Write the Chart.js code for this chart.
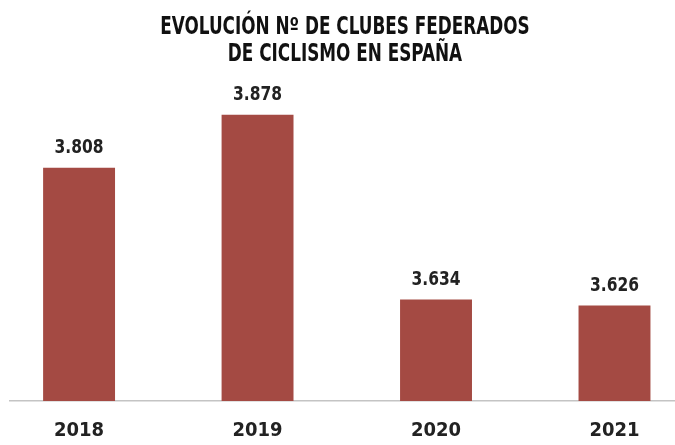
<!DOCTYPE html>
<html lang="es">
<head>
  <meta charset="UTF-8" />
  <title>Clubes federados de ciclismo</title>
  <script src="https://cdn.jsdelivr.net/npm/chart.js"></script>
  <style>
    body {
      margin: 0;
      background: #ffffff;
    }

    .grafica {
      width: 675px;
      height: 445px;
      position: relative;
    }
  </style>
</head>
<body>
  <div class="grafica">
    <canvas id="miCanvas"></canvas>
  </div>

  <script>
    const years = ["2018", "2019", "2020", "2021"];
    const clubs = [3808, 3878, 3634, 3626];
    const titleLines = ["EVOLUCIÓN Nº DE CLUBES FEDERADOS", "DE CICLISMO EN ESPAÑA"];

    const fontFamily = "'DejaVu Sans Condensed', 'Liberation Sans Narrow', sans-serif";

    // numero con punto de miles, como en el original
    const fmt = (v) => String(v).replace(/\B(?=(\d{3})+(?!\d))/g, ".");

    // texto estrechado a mano (la fuente del original es muy condensada)
    const narrowText = (ctx, text, x, y, sx) => {
      ctx.save();
      ctx.translate(x, y);
      ctx.scale(sx, 1);
      ctx.fillText(text, 0, 0);
      ctx.restore();
    };

    const titleAndLabels = {
      id: "titleAndLabels",
      afterDatasetsDraw(chart) {
        const ctx = chart.ctx;
        ctx.save();
        ctx.textAlign = "center";
        ctx.textBaseline = "middle";

        ctx.font = `bold 24px ${fontFamily}`;
        ctx.fillStyle = "#111111";
        titleLines.forEach((line, i) => narrowText(ctx, line, 345, 28 + i * 27, 0.78));

        ctx.font = `bold 20px ${fontFamily}`;
        ctx.fillStyle = "#222222";
        chart.getDatasetMeta(0).data.forEach((bar, i) => {
          narrowText(ctx, fmt(clubs[i]), bar.x, bar.y - 20, 0.86);
        });
        ctx.restore();
      }
    };

    const miCanvas = document.getElementById("miCanvas").getContext("2d");

    new Chart(miCanvas, {
      type: "bar",
      data: {
        datasets: [{
          label: "Clubes",
          data: years.map((y, i) => ({ x: i, y: clubs[i] })),
          backgroundColor: "#a44a43",
          borderWidth: 0,
          barPercentage: 0.403,
          categoryPercentage: 1
        }]
      },
      options: {
        responsive: true,
        maintainAspectRatio: false,
        animation: false,
        layout: {
          padding: { left: 10, right: 0, top: 98, bottom: 0 }
        },
        plugins: {
          legend: { display: false },
          tooltip: { enabled: false },
          title: { display: false }
        },
        scales: {
          x: {
            type: "linear",
            offset: false,
            min: -0.387,
            max: 3.339,
            grid: { display: false },
            border: { color: "#c4c4c4", width: 1.5 },
            afterBuildTicks: (scale) => {
              scale.ticks = years.map((_, i) => ({ value: i }));
            },
            afterFit: (scale) => {
              scale.height = 44;
            },
            ticks: {
              color: "#222222",
              padding: 10,
              maxRotation: 0,
              font: { family: fontFamily, size: 20, weight: "bold" },
              callback: (v) => years[v]
            }
          },
          y: {
            display: false,
            min: 3500,
            max: 3900
          }
        }
      },
      plugins: [titleAndLabels]
    });
  </script>
</body>
</html>
